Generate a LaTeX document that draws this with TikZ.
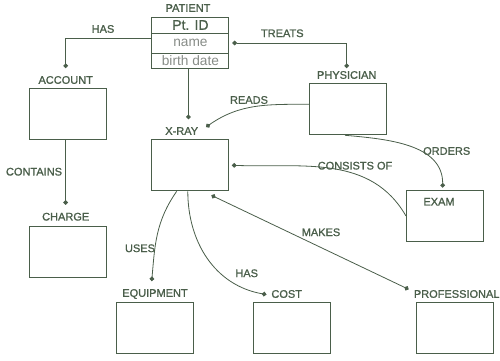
\documentclass[tikz,border=0pt]{standalone}
\usepackage{fontspec}
\setmainfont{Liberation Sans}
\newfontfamily\erfont{Liberation Sans}[FakeBold=1.2]
\usepackage{tikz}
\usetikzlibrary{positioning,arrows.meta}
\definecolor{erline}{RGB}{74,94,74}
\definecolor{ergray}{RGB}{135,140,135}

\begin{document}
\begin{tikzpicture}[x=1pt,y=1pt,
  every node/.style={text=erline,font=\erfont\fontsize{11}{13}\selectfont},
  entity/.style={draw=erline,line width=1pt,minimum width=77pt,minimum height=51pt,inner sep=0pt},
  ename/.style={inner sep=2pt,outer sep=6pt},
  field/.style={draw=erline,line width=1pt,minimum width=77pt,inner sep=0pt,text=ergray,font=\rmfamily\fontsize{13.7}{15}\selectfont},
  rel/.style={draw=erline,line width=0.8pt,-{Circle[length=4.6pt]}},
  relboth/.style={rel,{Circle[length=4.6pt]}-{Circle[length=4.6pt]}},
  relstart/.style={rel,{Circle[length=4.6pt]}-}]
        \useasboundingbox (0,0) rectangle (500,360);
        \node[ename] (patl) at (188,352) {PATIENT};
        \node[field,minimum height=16pt,text=erline,font=\erfont\fontsize{14}{16}\selectfont] (pid) at (190.4,335) {Pt. ID};
        \node[field,minimum height=20pt] (pname) at (190.4,317) {name};
        \node[field,minimum height=15.5pt] (pbirth) at (190.4,299.25) {birth date};
        \draw[erline,line width=1.8pt] (pid.south west) -- (pid.south east);
        \node[entity] (acc) at (68,245.7) {};
        \node[entity] (chg) at (68,108) {};
        \node[entity] (xray) at (190.4,194.7) {};
        \node[entity] (phys) at (348,250.7) {};
        \node[entity] (exam) at (445,144) {};
        \node[entity] (equip) at (154.5,31.7) {};
        \node[entity] (cost) at (292.3,31.7) {};
        \node[entity] (prof) at (455,31.7) {};
        \node[ename] (accl) at (65.7,280) {ACCOUNT};
        \node[ename] (chgl) at (65.7,143.3) {CHARGE};
        \node[ename] (xrayl) at (181.7,229) {X-RAY};
        \node[ename] (physl) at (346.7,285) {PHYSICIAN};
        \node[ename] (examl) at (439,158.3) {EXAM};
        \node[ename] (equipl) at (155,66) {EQUIPMENT};
        \node[ename] (costl) at (286.7,66) {COST};
        \node[ename] (profl) at (456.7,66) {PROFESSIONAL};
        \node (hasacc) at (103,331) {HAS};
        \node (treats) at (282.3,326.7) {TREATS};
        \node (reads) at (249,260) {READS};
        \node (contains) at (34,188.3) {CONTAINS};
        \node (orders) at (446.7,209) {ORDERS};
        \node (consists) at (355,194.3) {CONSISTS OF};
        \node (uses) at (140,111.7) {USES};
        \node (hascost) at (246.7,86.7) {HAS};
        \node (makes) at (321,127.7) {MAKES};
        \draw[rel] ([yshift=5pt]pname.west) -| (accl.north);
        \draw[relboth,shorten >=-5pt] ([xshift=3pt]pname.east) -| (physl.north);
        \draw[rel] ([xshift=-2pt]pbirth.south) -- ([xshift=-2pt]pbirth.south |- xrayl.north);
        \draw[rel] (acc.south -| chgl.north) -- (chgl.north);
        \draw[rel] ([yshift=5pt]phys.west) to[out=180,in=35] ([yshift=4pt]xrayl.east);
        \draw[rel] ([xshift=-3pt]phys.south) to[out=-5,in=90] ([xshift=-2.3pt,yshift=2.4pt]exam.north);
        \draw[relstart] ([xshift=2.5pt]xray.east) to[out=-2,in=120] (exam.west);
        \draw[relboth,shorten >=-3pt] ([xshift=21pt,yshift=-4pt]xray.south) -- ([yshift=6pt]profl.west);
        \draw[rel] ([xshift=-13.7pt]xray.south) to[out=235,in=85] ([xshift=-3.3pt]equipl.north);
        \draw[rel,shorten >=-3pt] ([xshift=-2.6pt]xray.south) to[out=-90,in=170] (costl.west);
\end{tikzpicture}
\end{document}
